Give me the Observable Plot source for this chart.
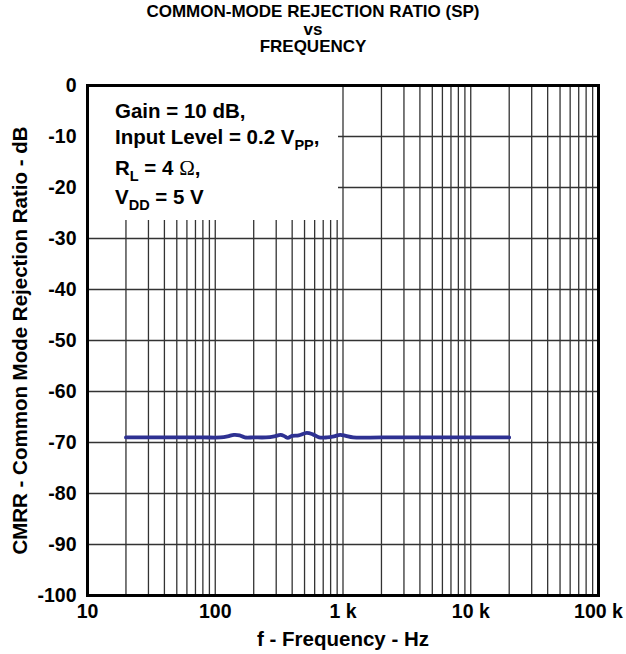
<!DOCTYPE html>
<html>
<head>
<meta charset="utf-8">
<script src="https://cdn.jsdelivr.net/npm/d3@7"></script>
<script src="https://cdn.jsdelivr.net/npm/@observablehq/plot@0.6"></script>
<style>
  body { margin: 0; background: #fff; }
  #wrap { position: relative; width: 626px; height: 654px; font-family: "Liberation Sans", Arial, sans-serif; font-weight: bold; color: #000; }
  #title { position: absolute; left: 0; top: 3px; width: 626px; text-align: center; font-size: 17px; line-height: 17.5px; }
  #legend { position: absolute; left: 89px; top: 87px; width: 249px; height: 133px; background: #fff; font-size: 20.5px; }
  #legend div { position: absolute; left: 26px; white-space: nowrap; }
  #legend sub { font-size: 14.5px; vertical-align: -6px; line-height: 0; }
  #legend .om { font-family: "Liberation Serif", "Times New Roman", serif; font-weight: normal; font-size: 21px; }
</style>
</head>
<body>
<div id="wrap">
  <div id="title">COMMON-MODE REJECTION RATIO (SP)<br>vs<br>FREQUENCY</div>
  <div id="chart"></div>
  <div id="legend">
    <div style="top:12px">Gain = 10 dB,</div>
    <div style="top:38px">Input Level = 0.2 V<sub>PP</sub>,</div>
    <div style="top:69px">R<sub>L</sub> = 4 <span class="om">Ω</span>,</div>
    <div style="top:98px">V<sub>DD</sub> = 5 V</div>
  </div>
</div>
<script>
// Measured curve
const freq = [20, 30, 50, 80, 110, 125, 140, 155, 170, 200, 250, 290, 325, 350, 370, 400, 450, 520, 580, 650, 750, 850, 950, 1050, 1200, 2000, 5000, 10000, 20000];
const cmrr = [-69, -69, -69, -69, -69, -68.8, -68.5, -68.6, -69, -69, -69, -68.8, -68.5, -68.8, -69.1, -68.7, -68.6, -68.1, -68.4, -69, -69, -68.8, -68.5, -68.7, -69, -69, -69, -69, -69];

// Axes
const xTicks = [10, 100, 1000, 10000, 100000];
const xTickLabels = ["10", "100", "1 k", "10 k", "100 k"];
const yTicks = [0, -10, -20, -30, -40, -50, -60, -70, -80, -90, -100];
const gridF = [];
for (const d of [10, 100, 1000, 10000]) for (let m = 2; m <= 10; m++) gridF.push(d * m);
const gridDb = [-10, -20, -30, -40, -50, -60, -70, -80, -90];

const xLabelMap = new Map(xTicks.map((t, i) => [t, xTickLabels[i]]));
const data = freq.map((f, i) => ({f, v: cmrr[i]}));

const chart = Plot.plot({
  width: 626,
  height: 654,
  marginLeft: 87,
  marginRight: 28,
  marginTop: 85,
  marginBottom: 59,
  style: {fontFamily: "'Liberation Sans', Arial, sans-serif", fontWeight: "bold", fontSize: "19.5px", color: "#000", background: "#fff"},
  x: {type: "log", domain: [10, 100000]},
  y: {domain: [-100, 0]},
  marks: [
    Plot.ruleX(gridF, {stroke: "#333", strokeWidth: 1.3}),
    Plot.ruleY(gridDb, {stroke: "#333", strokeWidth: 1.3}),
    Plot.line(data, {x: "f", y: "v", stroke: "#2E3192", strokeWidth: 3.8, curve: "catmull-rom"}),
    Plot.frame({stroke: "#000", strokeWidth: 3}),
    Plot.axisX(xTicks, {tickSize: 0, tickPadding: 9, tickFormat: d => xLabelMap.get(d), fontSize: 19.5, label: null}),
    Plot.axisY(yTicks, {tickSize: 0, tickPadding: 11, tickFormat: d => String(d), fontSize: 19.5, label: null}),
    Plot.text(["f - Frequency - Hz"], {frameAnchor: "bottom", dy: 50, fontSize: 20.5, fontWeight: "bold"}),
    Plot.text(["CMRR - Common Mode Rejection Ratio - dB"], {frameAnchor: "left", textAnchor: "middle", dx: -67, rotate: -90, fontSize: 20.5, fontWeight: "bold"})
  ]
});
document.getElementById("chart").appendChild(chart);
</script>
</body>
</html>
